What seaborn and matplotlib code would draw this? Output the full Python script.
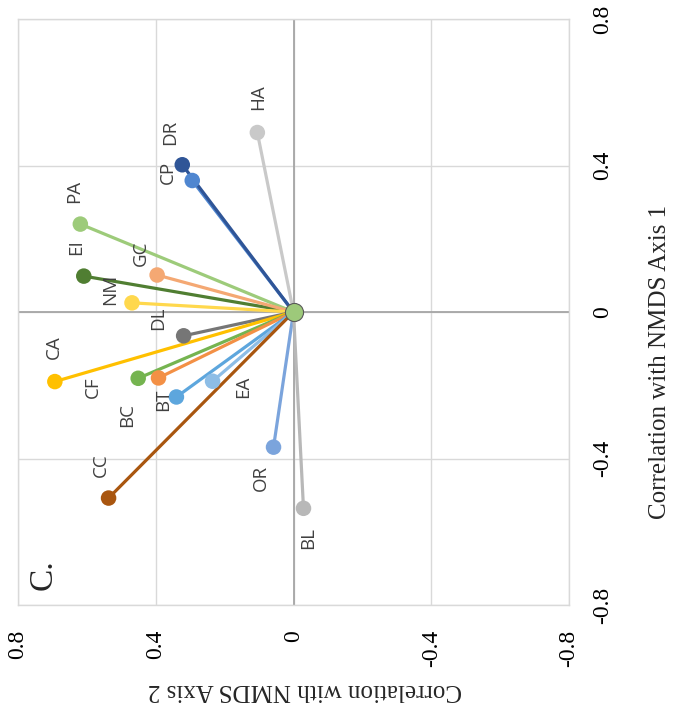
import matplotlib
matplotlib.use("Agg")
import matplotlib.pyplot as plt
import seaborn as sns
import pandas as pd

# ---- data ----
names = ["HA", "DR", "CP", "PA", "EI", "GC", "NM", "DL",
         "CA", "CF", "BT", "BC", "EA", "CC", "OR", "BL"]
axis1 = [0.490, 0.402, 0.359, 0.240, 0.098, 0.101, 0.025, -0.065,
         -0.190, -0.181, -0.180, -0.232, -0.189, -0.508, -0.369, -0.536]
axis2 = [0.105, 0.323, 0.294, 0.619, 0.609, 0.396, 0.469, 0.319,
         0.693, 0.451, 0.392, 0.340, 0.235, 0.537, 0.058, -0.029]
origin_axis1 = [0.0]
origin_axis2 = [0.0]
tick_values = [0.8, 0.4, 0.0, -0.4, -0.8]
tick_labels = ["0.8", "0.4", "0", "-0.4", "-0.8"]

# drawing order (DR line sits above CP line)
draw_order = ["HA", "CP", "DR", "PA", "EI", "GC", "NM", "DL",
              "CA", "CF", "BT", "BC", "EA", "CC", "OR", "BL"]

# ---- styles ----
colors = {"HA": "#C9C9C9", "DR": "#2F5597", "CP": "#4F86D0", "PA": "#9DCB7A",
          "EI": "#507E32", "GC": "#F4A873", "NM": "#FFD84D", "DL": "#767676",
          "CA": "#FFC000", "CF": "#75B450", "BT": "#F39045", "BC": "#5DA6DD",
          "EA": "#8DBDE6", "CC": "#A9560F", "OR": "#7BA4DC", "BL": "#B8B8B8"}
# label offsets in image pixels (dx right, dy down)
label_offsets = {"HA": (1, -35), "DR": (-12, -32), "CP": (-24, -8), "PA": (-6, -33),
                 "EI": (-8, -29), "GC": (-16, -22), "NM": (-22, -13), "DL": (-26, -18),
                 "CA": (-1, -34), "CF": (-45, 9), "BT": (5, 22), "BC": (-49, 18),
                 "EA": (31, 6), "CC": (-8, -33), "OR": (-13, 31), "BL": (5, 30)}

sns.set_theme(style="white")
plt.rcParams['font.family'] = ['Liberation Serif', 'DejaVu Serif']

W, H = 674, 715
fig = plt.figure(figsize=(W / 100, H / 100), dpi=100)
L, R, T, B = 18, 569, 19, 605
ax = fig.add_axes([L / W, 1 - B / H, (R - L) / W, (B - T) / H])

rows = []
for n, a1, a2 in zip(names, axis1, axis2):
    rows.append({"name": n, "a1": origin_axis1[0], "a2": origin_axis2[0]})
    rows.append({"name": n, "a1": a1, "a2": a2})
seg = pd.DataFrame(rows)
pts = pd.DataFrame({"name": names, "a1": axis1, "a2": axis2})

ax.axhline(0, color="#A6A6A6", lw=1.3, zorder=1)
ax.axvline(0, color="#A6A6A6", lw=1.3, zorder=1)

sns.lineplot(data=seg, x="a2", y="a1", hue="name", hue_order=draw_order,
             palette=colors, sort=False, estimator=None, legend=False,
             linewidth=2.3, ax=ax, zorder=2)
sns.scatterplot(data=pts, x="a2", y="a1", hue="name", palette=colors, s=125,
                linewidth=0, legend=False, ax=ax, zorder=3)
sns.scatterplot(x=origin_axis2, y=origin_axis1, color="#9DC97A", s=170,
                edgecolor="#595959", linewidth=0.8, legend=False, ax=ax, zorder=4)

for n, a1, a2 in zip(names, axis1, axis2):
    dx, dy = label_offsets[n]
    ax.annotate(n, (a2, a1), xytext=(dx * 0.72, -dy * 0.72), textcoords="offset points",
                rotation=90, ha="center", va="center", fontsize=13.5,
                family=["Open Sans", "DejaVu Sans"], color="#404040", zorder=5)

ax.set_xlim(0.8, -0.8)
ax.set_ylim(-0.8, 0.8)
ax.set_xticks(tick_values)
ax.set_xticklabels(tick_labels, rotation=90)
ax.set_yticks(tick_values)
ax.set_yticklabels(tick_labels, rotation=90, va="center")
ax.yaxis.tick_right()
ax.tick_params(axis="x", length=0, labelsize=17, pad=18, colors="#000000")
ax.tick_params(axis="y", length=0, labelsize=17, pad=17, colors="#000000")
ax.set_xlabel("")
ax.set_ylabel("")
ax.grid(True, color="#D9D9D9", linewidth=1.0)
ax.set_axisbelow(True)
for s in ax.spines.values():
    s.set_color("#D9D9D9")
    s.set_linewidth(1.0)

fig.text(660 / W, 1 - 362 / H, "Correlation with NMDS Axis 1", rotation=90,
         ha="center", va="center", fontsize=18)
fig.text(305 / W, 1 - 690 / H, "Correlation with NMDS Axis 2", rotation=180,
         ha="center", va="center", fontsize=18)
fig.text(43 / W, 1 - 575 / H, "C.", rotation=90, ha="center", va="center", fontsize=24)

fig.savefig("out.png", dpi=100)
